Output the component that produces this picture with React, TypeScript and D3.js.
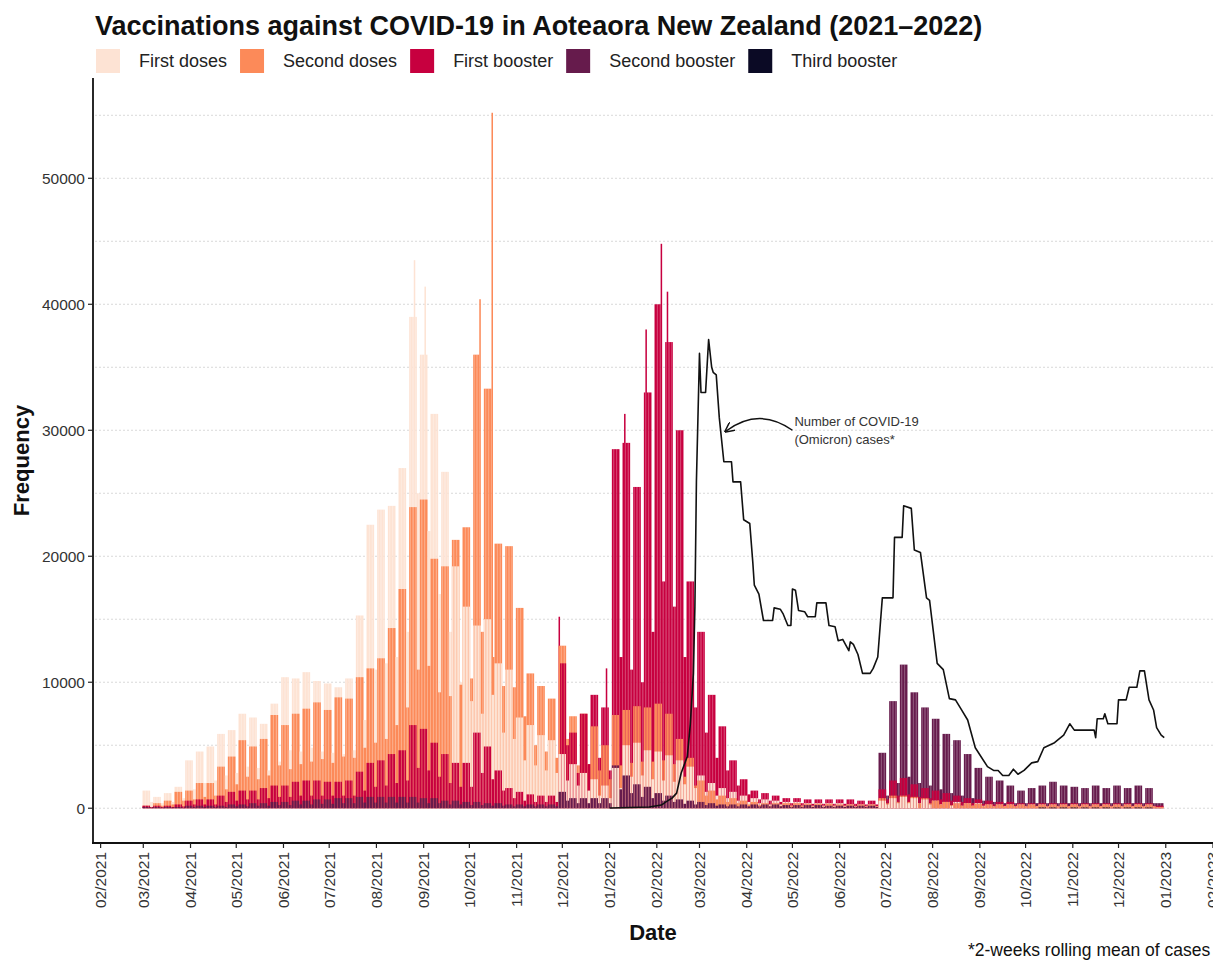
import React, { useEffect, useRef } from "react";
import * as d3 from "d3";

const W = 1213;
const H = 960;
const FONT = "'Liberation Sans', Arial, Helvetica, sans-serif";

const seriesNames = ["First doses", "Second doses", "First booster", "Second booster", "Third booster"];
const seriesColors = ["#fde3d4", "#fc8a59", "#c7003f", "#661b4c", "#0b0a25"];

// doses per day, read week by week; week 0 starts Monday 2021-03-01
// *Weekday = Mon-Fri level, *Weekend = Sat-Sun level
const firstDosesWeekday = [
  1400, 900, 1200, 1700, 3800, 4500, 4900, 5900, 6200, 7500, 7200, 6700,
  8300, 10400, 10300, 10800, 10100, 9900, 9600, 10300, 15300, 22500, 23700, 24000,
  27000, 39000, 36000, 31300, 26700, 19200, 16000, 14500, 15000, 11500, 11000, 7200,
  6600, 5800, 5400, 4300, 3500, 2800, 2300, 1800, 3200, 5000, 5200, 4600,
  4500, 4200, 3800, 3300, 2600, 2000, 1600, 1300, 1000, 800, 700, 600,
  500, 500, 400, 400, 400, 400, 300, 300, 300, 600, 800, 900,
  800, 700, 600, 500, 500, 400, 400, 300, 300, 300, 300, 300,
  300, 300, 300, 300, 300, 300, 300, 300, 300, 300, 300, 100,
];
const firstDosesWeekend = [
  500, 400, 500, 800, 1500, 2000, 2200, 2600, 2800, 3300, 3200, 3000,
  3700, 4600, 4500, 4800, 4500, 4400, 4300, 4600, 7000, 11000, 11500, 12000,
  14000, 25000, 22000, 17000, 14000, 10000, 8500, 7500, 9000, 6000, 5500, 3800,
  3400, 3000, 2800, 2200, 1800, 1400, 1000, 800, 1600, 2500, 2600, 2300,
  2200, 2100, 1900, 1600, 1300, 1000, 800, 600, 500, 400, 300, 300,
  200, 200, 200, 200, 200, 200, 150, 150, 150, 300, 400, 400,
  400, 300, 300, 200, 200, 200, 200, 150, 150, 150, 150, 150,
  150, 150, 150, 150, 150, 150, 150, 150, 150, 150, 150, 50,
];
const secondDosesWeekday = [
  200, 400, 600, 1300, 1400, 2000, 2000, 3300, 4100, 5400, 4900, 5500,
  7400, 6600, 7500, 7900, 8400, 7800, 8800, 8700, 10400, 11100, 11900, 14300,
  17400, 23900, 24500, 19800, 19200, 21300, 22300, 36000, 33300, 21000, 20800, 15900,
  10700, 9700, 8700, 12900, 7300, 7500, 6500, 5000, 7400, 7800, 8100, 8000,
  8300, 7500, 5500, 4000, 2200, 1400, 1000, 800, 600, 500, 400, 400,
  400, 400, 350, 350, 350, 300, 300, 300, 300, 800, 1000, 1000,
  900, 800, 600, 500, 400, 400, 350, 300, 300, 300, 300, 300,
  300, 300, 300, 300, 300, 300, 300, 300, 300, 300, 300, 100,
];
const secondDosesWeekend = [
  100, 200, 300, 600, 700, 900, 1000, 1500, 1900, 2500, 2300, 2600,
  3400, 3100, 3500, 3700, 3900, 3600, 4100, 4000, 4800, 5200, 5500, 6600,
  8000, 11000, 11300, 9200, 8900, 9800, 10300, 14000, 12000, 9700, 9600, 7300,
  5000, 4500, 4000, 5500, 3400, 3500, 3000, 2300, 3400, 3600, 3700, 3700,
  3800, 3500, 2500, 1800, 1000, 700, 500, 400, 300, 250, 200, 200,
  200, 200, 150, 150, 150, 150, 150, 150, 150, 400, 500, 500,
  400, 400, 300, 250, 200, 200, 150, 150, 150, 150, 150, 150,
  150, 150, 150, 150, 150, 150, 150, 150, 150, 150, 150, 50,
];
const firstBoosterWeekday = [
  200, 200, 200, 300, 600, 700, 700, 1000, 1300, 1400, 1400, 1600,
  1800, 1800, 2100, 2200, 2200, 2100, 2100, 2200, 2900, 3600, 3800, 4300,
  4600, 6600, 6300, 5200, 4300, 3600, 3600, 6000, 4900, 3000, 1600, 1300,
  1100, 1000, 1000, 11500, 6000, 7500, 9000, 8000, 28500, 29000, 25500, 33000,
  40000, 37000, 30000, 18000, 14000, 9000, 6500, 3800, 2300, 1400, 1200, 1000,
  800, 800, 700, 700, 700, 700, 700, 600, 600, 1500, 2200, 2400,
  1900, 1600, 1400, 1200, 1000, 800, 700, 600, 500, 500, 400, 400,
  400, 400, 400, 400, 400, 400, 400, 400, 400, 400, 400, 200,
];
const firstBoosterWeekend = [
  100, 100, 100, 150, 300, 300, 300, 500, 600, 700, 700, 800,
  900, 900, 1000, 1000, 1000, 1000, 1000, 1000, 1400, 1700, 1800, 2000,
  2200, 3200, 3000, 2500, 2000, 1700, 1700, 2800, 2300, 1400, 800, 600,
  500, 500, 500, 5000, 2800, 3500, 4000, 3000, 12000, 11000, 10000, 14000,
  18000, 16000, 12000, 8000, 6000, 4000, 3000, 1800, 1100, 700, 600, 500,
  400, 400, 350, 350, 350, 350, 350, 300, 300, 700, 1000, 1100,
  900, 800, 700, 600, 500, 400, 350, 300, 250, 250, 200, 200,
  200, 200, 200, 200, 200, 200, 200, 200, 200, 200, 200, 0,
];
const secondBoosterWeekday = [
  100, 100, 100, 100, 200, 200, 200, 200, 300, 300, 400, 400,
  500, 500, 600, 600, 700, 700, 800, 800, 900, 900, 900, 900,
  900, 900, 800, 800, 600, 600, 500, 500, 400, 400, 300, 300,
  300, 300, 300, 1300, 800, 800, 800, 800, 3400, 2600, 1900, 1700,
  1200, 1000, 700, 600, 500, 400, 300, 300, 300, 300, 300, 300,
  250, 250, 250, 250, 200, 200, 200, 200, 200, 4400, 8500, 11400,
  9200, 8000, 7100, 5900, 5400, 4300, 3200, 2500, 2200, 1800, 1400, 1600,
  1800, 2100, 1800, 1700, 1600, 1800, 1600, 1800, 1600, 1800, 1600, 400,
];
const secondBoosterWeekend = [
  50, 50, 50, 50, 100, 100, 100, 100, 150, 150, 200, 200,
  250, 250, 300, 300, 350, 350, 400, 400, 450, 450, 450, 450,
  450, 450, 400, 400, 300, 300, 250, 250, 200, 200, 150, 150,
  150, 150, 150, 600, 400, 400, 400, 400, 1500, 1200, 900, 800,
  600, 500, 350, 300, 250, 200, 150, 150, 150, 150, 150, 150,
  100, 100, 100, 100, 100, 100, 100, 100, 100, 1000, 2000, 2500,
  2000, 1800, 1500, 1200, 1000, 800, 600, 500, 400, 400, 400, 400,
  400, 400, 400, 400, 400, 400, 400, 400, 400, 400, 400, 0,
];
const thirdBoosterWeekday = [
  0, 0, 0, 0, 0, 0, 0, 0, 0, 0, 0, 0,
  0, 0, 0, 0, 0, 0, 0, 0, 0, 0, 0, 0,
  0, 0, 0, 0, 0, 0, 0, 0, 0, 0, 0, 0,
  0, 0, 0, 0, 0, 0, 0, 0, 0, 0, 0, 0,
  0, 0, 0, 0, 0, 0, 0, 0, 0, 0, 0, 0,
  0, 0, 0, 0, 0, 0, 0, 0, 0, 0, 0, 0,
  0, 0, 0, 0, 0, 0, 0, 0, 0, 0, 0, 0,
  60, 60, 60, 60, 60, 60, 60, 60, 60, 60, 60, 0,
];
const thirdBoosterWeekend = [
  0, 0, 0, 0, 0, 0, 0, 0, 0, 0, 0, 0,
  0, 0, 0, 0, 0, 0, 0, 0, 0, 0, 0, 0,
  0, 0, 0, 0, 0, 0, 0, 0, 0, 0, 0, 0,
  0, 0, 0, 0, 0, 0, 0, 0, 0, 0, 0, 0,
  0, 0, 0, 0, 0, 0, 0, 0, 0, 0, 0, 0,
  0, 0, 0, 0, 0, 0, 0, 0, 0, 0, 0, 0,
  0, 0, 0, 0, 0, 0, 0, 0, 0, 0, 0, 0,
  0, 0, 0, 0, 0, 0, 0, 0, 0, 0, 0, 0,
];

// single days that stand out from their week
const singleDayPeaks = [
  { series: "First doses", date: "2021-08-26", value: 43500 },
  { series: "First doses", date: "2021-09-02", value: 41400 },
  { series: "Second doses", date: "2021-10-08", value: 40400 },
  { series: "Second doses", date: "2021-10-16", value: 55200 },
  { series: "First booster", date: "2021-11-29", value: 15200 },
  { series: "First booster", date: "2021-12-30", value: 11100 },
  { series: "First booster", date: "2022-01-11", value: 31300 },
  { series: "First booster", date: "2022-01-25", value: 38000 },
  { series: "First booster", date: "2022-02-04", value: 44800 },
  { series: "First booster", date: "2022-02-08", value: 41000 },
];

const lastDoseDate = "2022-12-30";

// 2-week rolling mean of Omicron cases
const omicronCases: [string, number][] = [
  ["2022-01-01", 20], ["2022-01-27", 100], ["2022-02-04", 250], ["2022-02-07", 500],
  ["2022-02-11", 800], ["2022-02-14", 1200], ["2022-02-17", 2800], ["2022-02-21", 4100],
  ["2022-02-23", 6700], ["2022-02-25", 10700], ["2022-02-26", 16000], ["2022-02-27", 26000],
  ["2022-03-01", 36100], ["2022-03-02", 33000], ["2022-03-05", 33000], ["2022-03-07", 37200],
  ["2022-03-09", 35000], ["2022-03-10", 34600], ["2022-03-12", 34400], ["2022-03-14", 31000],
  ["2022-03-17", 27500], ["2022-03-22", 27500], ["2022-03-23", 25900], ["2022-03-28", 25900],
  ["2022-03-30", 22900], ["2022-04-03", 22600], ["2022-04-05", 19500], ["2022-04-06", 17700],
  ["2022-04-09", 17000], ["2022-04-12", 14900], ["2022-04-18", 14900], ["2022-04-19", 15900],
  ["2022-04-23", 15800], ["2022-04-25", 15400], ["2022-04-28", 14500], ["2022-04-30", 14500],
  ["2022-05-01", 17400], ["2022-05-03", 17300], ["2022-05-05", 15700], ["2022-05-09", 15600],
  ["2022-05-11", 15200], ["2022-05-16", 15200], ["2022-05-17", 16300], ["2022-05-23", 16300],
  ["2022-05-25", 14500], ["2022-05-29", 14400], ["2022-05-31", 13300], ["2022-06-03", 13400],
  ["2022-06-07", 12500], ["2022-06-08", 13200], ["2022-06-10", 13000], ["2022-06-13", 12200],
  ["2022-06-16", 10700], ["2022-06-21", 10700], ["2022-06-23", 11100], ["2022-06-26", 12000],
  ["2022-06-29", 16700], ["2022-07-06", 16700], ["2022-07-07", 21500], ["2022-07-12", 21500],
  ["2022-07-13", 24000], ["2022-07-18", 23800], ["2022-07-20", 20500], ["2022-07-24", 20300],
  ["2022-07-28", 16700], ["2022-07-30", 16500], ["2022-08-04", 11500], ["2022-08-08", 11000],
  ["2022-08-12", 8700], ["2022-08-16", 8600], ["2022-08-20", 7800], ["2022-08-24", 7000],
  ["2022-08-29", 4800], ["2022-09-06", 3300], ["2022-09-10", 3000], ["2022-09-13", 3000],
  ["2022-09-16", 2600], ["2022-09-20", 2600], ["2022-09-23", 3100], ["2022-09-26", 2700],
  ["2022-09-30", 3000], ["2022-10-05", 3600], ["2022-10-09", 3700], ["2022-10-13", 4800],
  ["2022-10-20", 5200], ["2022-10-26", 5800], ["2022-10-30", 6700], ["2022-11-02", 6200],
  ["2022-11-15", 6200], ["2022-11-16", 5600], ["2022-11-17", 7100], ["2022-11-21", 7100],
  ["2022-11-22", 7500], ["2022-11-24", 6700], ["2022-11-30", 6700], ["2022-12-01", 8600],
  ["2022-12-06", 8600], ["2022-12-08", 9600], ["2022-12-13", 9600], ["2022-12-15", 10900],
  ["2022-12-18", 10900], ["2022-12-21", 8600], ["2022-12-24", 7800], ["2022-12-26", 6400],
  ["2022-12-29", 5800], ["2022-12-31", 5600],
];

const yTicks = [0, 10000, 20000, 30000, 40000, 50000];
const yGrid = [0, 5000, 10000, 15000, 20000, 25000, 30000, 35000, 40000, 45000, 50000, 55000];

export default function App() {
  const svgRef = useRef<SVGSVGElement>(null);

  useEffect(() => {
    document.body.style.margin = "0";
    if (!svgRef.current) return;
    const svg = d3.select(svgRef.current);
    svg.selectAll("*").remove();

    const parse = d3.timeParse("%Y-%m-%d");
    const fmt = d3.timeFormat("%Y-%m-%d");
    const left = 93, right = 1213, top = 78, bottom = 843;

    const x = d3.scaleTime()
      .domain([new Date(2021, 0, 27), new Date(2023, 1, 1)])
      .range([left, right]);
    const y = d3.scaleLinear().domain([-2760, 57960]).range([bottom, top]);

    // grid
    svg.append("g")
      .selectAll("line")
      .data(yGrid)
      .join("line")
      .attr("x1", left + 2).attr("x2", right)
      .attr("y1", d => y(d)).attr("y2", d => y(d))
      .attr("stroke", "#d9d9d9")
      .attr("stroke-width", 1)
      .attr("stroke-dasharray", "2,2");

    // daily bars, drawn tallest first so every series stays visible
    const weekly = [
      [firstDosesWeekday, firstDosesWeekend],
      [secondDosesWeekday, secondDosesWeekend],
      [firstBoosterWeekday, firstBoosterWeekend],
      [secondBoosterWeekday, secondBoosterWeekend],
      [thirdBoosterWeekday, thirdBoosterWeekend],
    ];
    const peaks = new Map(singleDayPeaks.map(s => [s.date + "|" + s.series, s.value]));
    const start = new Date(2021, 2, 1);
    const end = parse(lastDoseDate) as Date;
    const days = d3.timeDay.range(start, d3.timeDay.offset(end, 1));
    const bars: { date: Date; k: number; v: number }[] = [];
    days.forEach((date, i) => {
      const wk = Math.floor(i / 7);
      const dow = i % 7;
      const vals = seriesNames.map((name, k) => {
        const p = peaks.get(fmt(date) + "|" + name);
        const v = p !== undefined ? p : (dow < 5 ? weekly[k][0][wk] : weekly[k][1][wk]);
        return { date, k, v };
      }).filter(b => b.v > 0).sort((a, b) => b.v - a.v);
      bars.push(...vals);
    });
    const bw = x(d3.timeDay.offset(start, 1)) - x(start);

    svg.append("g")
      .selectAll("rect")
      .data(bars)
      .join("rect")
      .attr("x", d => x(d.date) - bw * 0.5)
      .attr("width", bw)
      .attr("y", d => y(d.v))
      .attr("height", d => y(0) - y(d.v))
      .attr("fill", d => seriesColors[d.k]);

    // cases line
    const line = d3.line<[string, number]>()
      .x(d => x(parse(d[0]) as Date))
      .y(d => y(d[1]));
    svg.append("path")
      .datum(omicronCases)
      .attr("d", line)
      .attr("fill", "none")
      .attr("stroke", "#111")
      .attr("stroke-width", 1.6)
      .attr("stroke-linejoin", "round");

    // annotation
    svg.append("defs").append("marker")
      .attr("id", "arrowHead")
      .attr("viewBox", "0 0 10 10")
      .attr("refX", 9).attr("refY", 5)
      .attr("markerWidth", 10).attr("markerHeight", 10)
      .attr("markerUnits", "userSpaceOnUse")
      .attr("orient", "auto")
      .append("path")
      .attr("d", "M0,0 L10,5 L0,10")
      .attr("fill", "none")
      .attr("stroke", "#111")
      .attr("stroke-width", 1.5);

    const ax0 = x(parse("2022-05-01") as Date), ay0 = y(30000);
    const ax1 = x(parse("2022-03-18") as Date), ay1 = y(29900);
    const acx = (ax0 + ax1) / 2, acy = y(31900);
    svg.append("path")
      .attr("d", `M${ax0},${ay0} Q${acx},${acy} ${ax1},${ay1}`)
      .attr("fill", "none")
      .attr("stroke", "#111")
      .attr("stroke-width", 1.5)
      .attr("marker-end", "url(#arrowHead)");

    const note = svg.append("text")
      .attr("font-family", FONT)
      .attr("font-size", 13)
      .attr("fill", "#333");
    note.append("tspan").attr("x", ax0 + 2).attr("y", y(30200) - 2).text("Number of COVID-19");
    note.append("tspan").attr("x", ax0 + 2).attr("y", y(30200) + 16).text("(Omicron) cases*");

    // axes
    svg.append("line")
      .attr("x1", left).attr("x2", left).attr("y1", top).attr("y2", bottom + 1)
      .attr("stroke", "#111").attr("stroke-width", 1.8);
    svg.append("line")
      .attr("x1", left - 1).attr("x2", right).attr("y1", bottom).attr("y2", bottom)
      .attr("stroke", "#111").attr("stroke-width", 1.8);

    const yg = svg.append("g");
    yg.selectAll("line")
      .data(yTicks)
      .join("line")
      .attr("x1", left - 5).attr("x2", left)
      .attr("y1", d => y(d)).attr("y2", d => y(d))
      .attr("stroke", "#222").attr("stroke-width", 1.2);
    yg.selectAll("text")
      .data(yTicks)
      .join("text")
      .attr("x", left - 8)
      .attr("y", d => y(d))
      .attr("dy", "0.35em")
      .attr("text-anchor", "end")
      .attr("font-family", FONT)
      .attr("font-size", 15.5)
      .attr("fill", "#333")
      .text(d => String(d));

    const months = d3.timeMonth.range(new Date(2021, 1, 1), new Date(2023, 1, 2));
    const mf = d3.timeFormat("%m/%Y");
    const xg = svg.append("g");
    xg.selectAll("line")
      .data(months)
      .join("line")
      .attr("x1", d => x(d)).attr("x2", d => x(d))
      .attr("y1", bottom).attr("y2", bottom + 5)
      .attr("stroke", "#222").attr("stroke-width", 1.2);
    xg.selectAll("text")
      .data(months)
      .join("text")
      .attr("transform", d => `translate(${x(d)},${bottom + 9}) rotate(-90)`)
      .attr("dy", "0.35em")
      .attr("text-anchor", "end")
      .attr("font-family", FONT)
      .attr("font-size", 15.5)
      .attr("fill", "#333")
      .text(d => mf(d));

    // titles
    svg.append("text")
      .attr("x", 95).attr("y", 35)
      .attr("font-family", FONT)
      .attr("font-size", 27)
      .attr("font-weight", "bold")
      .attr("fill", "#111")
      .text("Vaccinations against COVID-19 in Aoteaora New Zealand (2021\u20132022)");

    svg.append("text")
      .attr("transform", `translate(29,${(top + bottom) / 2}) rotate(-90)`)
      .attr("text-anchor", "middle")
      .attr("font-family", FONT)
      .attr("font-size", 22)
      .attr("font-weight", "bold")
      .attr("fill", "#111")
      .text("Frequency");

    svg.append("text")
      .attr("x", (left + right) / 2).attr("y", 940)
      .attr("text-anchor", "middle")
      .attr("font-family", FONT)
      .attr("font-size", 22)
      .attr("font-weight", "bold")
      .attr("fill", "#111")
      .text("Date");

    svg.append("text")
      .attr("x", 968).attr("y", 956)
      .attr("font-family", FONT)
      .attr("font-size", 17.5)
      .attr("fill", "#111")
      .text("*2-weeks rolling mean of cases");

    // legend
    let lx = 96;
    seriesNames.forEach((name, k) => {
      svg.append("rect")
        .attr("x", lx).attr("y", 49)
        .attr("width", 24).attr("height", 24)
        .attr("fill", seriesColors[k]);
      const t = svg.append("text")
        .attr("x", lx + 43).attr("y", 61)
        .attr("dy", "0.35em")
        .attr("font-family", FONT)
        .attr("font-size", 18)
        .attr("fill", "#222")
        .text(name);
      const tw = (t.node() as SVGTextElement).getComputedTextLength();
      lx = lx + 43 + tw + 13;
    });
  }, []);

  return (
    <svg
      ref={svgRef}
      width={W}
      height={H}
      style={{ display: "block", background: "#fff" }}
    />
  );
}
